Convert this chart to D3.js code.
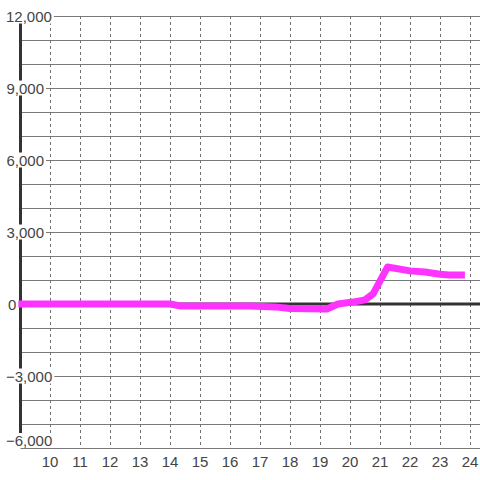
<!DOCTYPE html>
<html><head><meta charset="utf-8">
<script src="https://cdn.jsdelivr.net/npm/d3@7"></script>
<style>html,body{margin:0;padding:0;background:#fff}svg{display:block}</style>
</head><body>
<svg id="c" width="480" height="480"></svg>
<script>
const hours = [8.9, 14.0, 14.33, 16.67, 17.5, 18.0, 19.23, 19.6, 20.1, 20.5, 20.77, 21.25, 22.0, 22.5, 23.0, 23.3, 23.83];
const values = [0, 0, -80, -80, -120, -190, -210, 0, 80, 170, 420, 1540, 1380, 1330, 1240, 1210, 1210];
const xTicks = [10, 11, 12, 13, 14, 15, 16, 17, 18, 19, 20, 21, 22, 23, 24];
const yTicks = [-6000, -3000, 0, 3000, 6000, 9000, 12000];
const yGrid = d3.range(-6000, 12001, 1000);

const svg = d3.select("#c");
const x = d3.scaleLinear().domain([10, 24]).range([50, 470]);
const y = d3.scaleLinear().domain([-6000, 12000]).range([448, 16]);
const left = 20.5;

// horizontal grid
svg.append("g").selectAll("line").data(yGrid).join("line")
  .attr("x1", left).attr("x2", 480)
  .attr("y1", d => y(d) + 0.5).attr("y2", d => y(d) + 0.5)
  .attr("stroke", "#7a7a7a").attr("stroke-width", 1);

// vertical dashed grid
svg.append("g").selectAll("line").data(xTicks).join("line")
  .attr("x1", d => x(d) + 0.5).attr("x2", d => x(d) + 0.5)
  .attr("y1", 16).attr("y2", 447)
  .attr("stroke", "#707070").attr("stroke-width", 1)
  .attr("stroke-dasharray", "3,3");

// zero line
svg.append("line").attr("x1", left).attr("x2", 480).attr("y1", y(0)).attr("y2", y(0))
  .attr("stroke", "#333").attr("stroke-width", 3);

// y axis thick line
svg.append("line").attr("x1", left).attr("x2", left).attr("y1", 16).attr("y2", 448)
  .attr("stroke", "#333").attr("stroke-width", 3);

// data line
const line = d3.line().x((d, i) => x(hours[i])).y(d => y(d)).curve(d3.curveLinear);
svg.append("path").attr("d", line(values))
  .attr("fill", "none").attr("stroke", "#ff33ff").attr("stroke-width", 7)
  .attr("stroke-linejoin", "round");

// y labels with white backgrounds
const fmt = d3.format(",");
const yl = svg.append("g");
yTicks.forEach(v => {
  const g = yl.append("g");
  const t = g.append("text").text(fmt(v))
    .attr("font-family", "Liberation Sans, Arial, sans-serif")
    .attr("font-size", 15).attr("fill", "#444");
  let base = Math.min(y(v) + 5.5, 446);
  t.attr("y", base);
  let w = t.node().getComputedTextLength();
  let xs;
  if (v === 0) xs = 8;
  else xs = Math.max(44 - w, 6);
  t.attr("x", xs);
  g.insert("rect", "text").attr("x", xs - 2).attr("y", base - 13)
    .attr("width", w + 4).attr("height", 15).attr("fill", "#fff");
});

// x labels
svg.append("g").selectAll("text").data(xTicks).join("text")
  .attr("x", d => x(d)).attr("y", 466.5)
  .attr("text-anchor", "middle")
  .attr("font-family", "Liberation Sans, Arial, sans-serif")
  .attr("font-size", 15).attr("fill", "#444")
  .text(d => d);
</script>
</body></html>
